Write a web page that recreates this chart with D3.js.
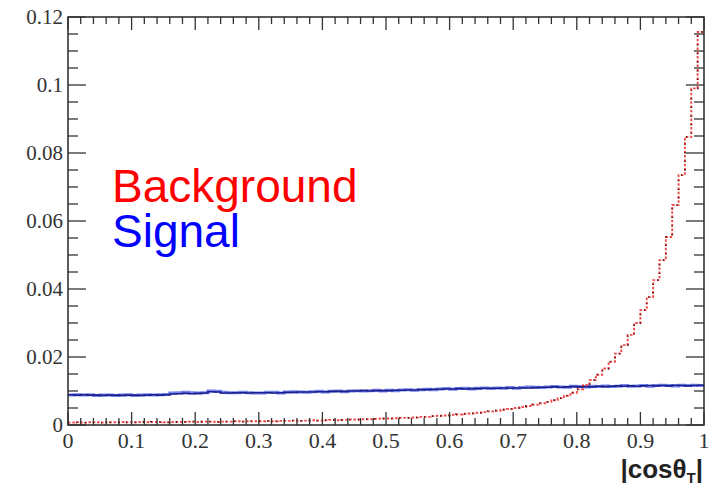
<!DOCTYPE html>
<html>
<head>
<meta charset="utf-8">
<script src="https://cdn.jsdelivr.net/npm/d3@7/dist/d3.min.js"></script>
<style>
  html, body { margin: 0; padding: 0; background: #fff; }
  svg { display: block; }
</style>
</head>
<body>
<svg id="chart" width="714" height="488"></svg>
<script>
// |cos theta_T| distributions, 100 bins over [0, 1], normalised to unit area
const binEdges = [0, 1];
const nBins = 100;

const background = [
  0.0007, 0.0008, 0.0007, 0.0008, 0.0008, 0.0007, 0.0008, 0.0008, 0.0009, 0.0008,
  0.0008, 0.0009, 0.0008, 0.0009, 0.0009, 0.0008, 0.0009, 0.0009, 0.0009, 0.0010,
  0.0009, 0.0010, 0.0010, 0.0009, 0.0010, 0.0010, 0.0011, 0.0010, 0.0011, 0.0011,
  0.0011, 0.0012, 0.0011, 0.0012, 0.0012, 0.0013, 0.0012, 0.0013, 0.0014, 0.0013,
  0.0014, 0.0015, 0.0014, 0.0015, 0.0016, 0.0016, 0.0017, 0.0017, 0.0018, 0.0019,
  0.0019, 0.0020, 0.0021, 0.0021, 0.0022, 0.0024, 0.0024, 0.0026, 0.0027, 0.0028,
  0.0030, 0.0031, 0.0033, 0.0034, 0.0036, 0.0038, 0.0040, 0.0042, 0.0045, 0.0047,
  0.0050, 0.0053, 0.0056, 0.0060, 0.0064, 0.0068, 0.0073, 0.0079, 0.0086, 0.0095,
  0.0105, 0.0118, 0.0132, 0.0148, 0.0166, 0.0186, 0.0210, 0.0235, 0.0265, 0.0300,
  0.0338, 0.0376, 0.0426, 0.0485, 0.0553, 0.0647, 0.0735, 0.0847, 0.0990, 0.1156
];

const signal = [
  0.0089, 0.0088, 0.0089, 0.0088, 0.0088, 0.0087, 0.0088, 0.0088, 0.0087, 0.0088,
  0.0088, 0.0087, 0.0088, 0.0089, 0.0088, 0.0089, 0.0091, 0.0092, 0.0093, 0.0092,
  0.0093, 0.0094, 0.0098, 0.0097, 0.0094, 0.0094, 0.0095, 0.0095, 0.0094, 0.0095,
  0.0095, 0.0095, 0.0094, 0.0095, 0.0096, 0.0096, 0.0097, 0.0097, 0.0097, 0.0098,
  0.0098, 0.0099, 0.0099, 0.0099, 0.0100, 0.0100, 0.0101, 0.0100, 0.0101, 0.0101,
  0.0101, 0.0102, 0.0102, 0.0103, 0.0103, 0.0104, 0.0104, 0.0105, 0.0105, 0.0106,
  0.0106, 0.0107, 0.0106, 0.0107, 0.0107, 0.0108, 0.0108, 0.0108, 0.0109, 0.0108,
  0.0109, 0.0109, 0.0109, 0.0110, 0.0111, 0.0111, 0.0112, 0.0111, 0.0112, 0.0113,
  0.0112, 0.0113, 0.0112, 0.0114, 0.0113, 0.0114, 0.0115, 0.0114, 0.0115, 0.0114,
  0.0115, 0.0116, 0.0115, 0.0116, 0.0115, 0.0117, 0.0116, 0.0115, 0.0116, 0.0117
];

// second signal sample, drawn as the lighter, wider band underneath
const signalAlt = [
  0.0088, 0.0089, 0.0088, 0.0089, 0.0087, 0.0088, 0.0088, 0.0087, 0.0088, 0.0089,
  0.0087, 0.0088, 0.0089, 0.0088, 0.0089, 0.0090, 0.0094, 0.0095, 0.0096, 0.0095,
  0.0094, 0.0095, 0.0100, 0.0099, 0.0096, 0.0095, 0.0095, 0.0096, 0.0095, 0.0094,
  0.0094, 0.0096, 0.0096, 0.0094, 0.0097, 0.0098, 0.0097, 0.0096, 0.0098, 0.0099,
  0.0097, 0.0099, 0.0100, 0.0098, 0.0100, 0.0101, 0.0100, 0.0101, 0.0102, 0.0100,
  0.0102, 0.0101, 0.0103, 0.0104, 0.0102, 0.0104, 0.0105, 0.0104, 0.0106, 0.0107,
  0.0105, 0.0107, 0.0108, 0.0106, 0.0108, 0.0109, 0.0107, 0.0109, 0.0108, 0.0110,
  0.0108, 0.0110, 0.0112, 0.0111, 0.0110, 0.0112, 0.0113, 0.0112, 0.0111, 0.0114,
  0.0113, 0.0112, 0.0114, 0.0113, 0.0115, 0.0113, 0.0114, 0.0116, 0.0114, 0.0115,
  0.0116, 0.0114, 0.0116, 0.0117, 0.0116, 0.0115, 0.0117, 0.0116, 0.0117, 0.0116
];

const xTicks = [0, 0.1, 0.2, 0.3, 0.4, 0.5, 0.6, 0.7, 0.8, 0.9, 1];
const xTickLabels = ["0", "0.1", "0.2", "0.3", "0.4", "0.5", "0.6", "0.7", "0.8", "0.9", "1"];
const yTicks = [0, 0.02, 0.04, 0.06, 0.08, 0.1, 0.12];
const yTickLabels = ["0", "0.02", "0.04", "0.06", "0.08", "0.1", "0.12"];
const legendLabels = ["Background", "Signal"];

const svg = d3.select("#chart");
const frame = { left: 68, right: 704, top: 17, bottom: 425 };

const x = d3.scaleLinear().domain(binEdges).range([frame.left, frame.right]);
const y = d3.scaleLinear().domain([0, 0.12]).range([frame.bottom, frame.top]);

const binWidth = (binEdges[1] - binEdges[0]) / nBins;
function stepPoints(vals) {
  const pts = vals.map((v, i) => [binEdges[0] + i * binWidth, v]);
  pts.push([binEdges[1], vals[vals.length - 1]]);
  return pts;
}
const stepLine = d3.line()
  .x(d => x(d[0]))
  .y(d => y(d[1]))
  .curve(d3.curveStepAfter);

const plot = svg.append("g");

// signal: light band then dark line
plot.append("path")
  .attr("d", stepLine(stepPoints(signalAlt)))
  .attr("fill", "none")
  .attr("stroke", "#7484ea")
  .attr("stroke-width", 3);
plot.append("path")
  .attr("d", stepLine(stepPoints(signal)))
  .attr("fill", "none")
  .attr("stroke", "#1c1f8e")
  .attr("stroke-width", 1.6);

// background: dotted red with darker markers
const bgPath = stepLine(stepPoints(background));
plot.append("path")
  .attr("d", bgPath)
  .attr("fill", "none")
  .attr("stroke", "#f24a4a")
  .attr("stroke-width", 1.9)
  .attr("stroke-dasharray", "2.5,1.8");
plot.append("path")
  .attr("d", bgPath)
  .attr("fill", "none")
  .attr("stroke", "#5a1010")
  .attr("stroke-width", 1.7)
  .attr("stroke-dasharray", "1.2,7.4");

// axes with ROOT-like inward ticks on all four sides
const axisColor = "#333";
const xMinor = d3.range(0, 51).map(i => i * 0.02);
const yMinor = d3.range(0, 25).map(i => i * 0.005);

const axisG = svg.append("g").attr("stroke", axisColor).attr("stroke-width", 1.3);

// bottom / top ticks
xMinor.forEach(v => {
  const major = xTicks.some(t => Math.abs(t - v) < 1e-9);
  const len = major ? 13 : 7;
  axisG.append("line").attr("x1", x(v)).attr("x2", x(v))
    .attr("y1", frame.bottom).attr("y2", frame.bottom - len);
  axisG.append("line").attr("x1", x(v)).attr("x2", x(v))
    .attr("y1", frame.top).attr("y2", frame.top + len);
});
// left / right ticks
yMinor.forEach(v => {
  const major = yTicks.some(t => Math.abs(t - v) < 1e-9);
  const len = major ? 18 : 10;
  axisG.append("line").attr("y1", y(v)).attr("y2", y(v))
    .attr("x1", frame.left).attr("x2", frame.left + len);
  axisG.append("line").attr("y1", y(v)).attr("y2", y(v))
    .attr("x1", frame.right).attr("x2", frame.right - len);
});

// frame
svg.append("rect")
  .attr("x", frame.left).attr("y", frame.top)
  .attr("width", frame.right - frame.left)
  .attr("height", frame.bottom - frame.top)
  .attr("fill", "none")
  .attr("stroke", axisColor)
  .attr("stroke-width", 1.6);

// tick labels
const labelFont = "'Liberation Serif', 'DejaVu Serif', serif";
svg.append("g").selectAll("text")
  .data(xTicks)
  .join("text")
  .attr("x", d => x(d))
  .attr("y", 448)
  .attr("text-anchor", "middle")
  .attr("font-family", labelFont)
  .attr("font-size", 22)
  .attr("fill", "#333")
  .text((d, i) => xTickLabels[i]);

svg.append("g").selectAll("text")
  .data(yTicks)
  .join("text")
  .attr("x", 63)
  .attr("y", d => y(d) + 7)
  .attr("text-anchor", "end")
  .attr("font-family", labelFont)
  .attr("font-size", 21)
  .attr("fill", "#333")
  .text((d, i) => yTickLabels[i]);

// x-axis title
const title = svg.append("text")
  .attr("x", 703)
  .attr("y", 478)
  .attr("text-anchor", "end")
  .attr("font-family", "'Liberation Sans', Arial, sans-serif")
  .attr("font-weight", "bold")
  .attr("font-size", 26)
  .attr("fill", "#222");
title.append("tspan").text("|cos\u03b8");
title.append("tspan").attr("font-size", 15).attr("dy", 5).text("T");
title.append("tspan").attr("dy", -5).text("|");

// legend text
const legendColors = ["#ff0000", "#0000ff"];
svg.append("g").selectAll("text")
  .data(legendLabels)
  .join("text")
  .attr("x", 112)
  .attr("y", (d, i) => 202 + i * 45)
  .attr("font-family", "'Liberation Sans', Arial, sans-serif")
  .attr("font-size", 46)
  .attr("fill", (d, i) => legendColors[i])
  .text(d => d);
</script>
</body>
</html>
